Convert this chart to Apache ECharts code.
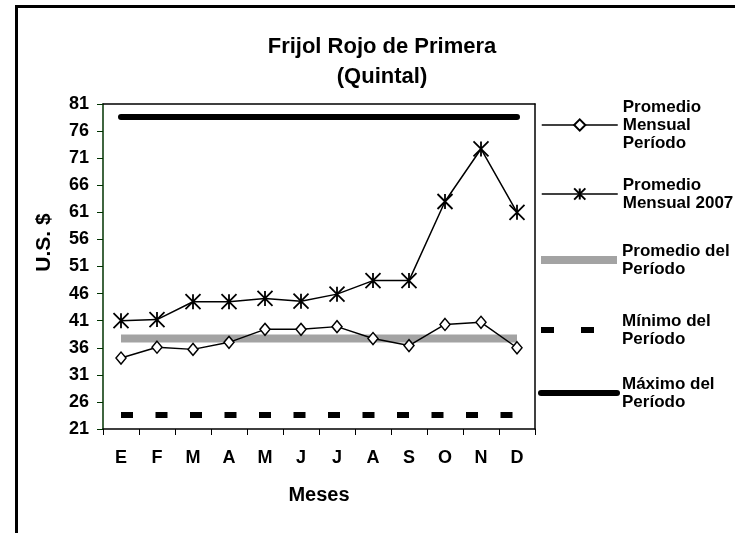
<!DOCTYPE html>
<html>
<head>
<meta charset="utf-8">
<script src="https://cdn.jsdelivr.net/npm/echarts@6/dist/echarts.min.js"></script>
<style>
  html, body { margin: 0; padding: 0; background: #fff; }
  #chart { width: 735px; height: 533px; }
</style>
</head>
<body>
<div id="chart"></div>
<script>
// datos
const meses = ['E', 'F', 'M', 'A', 'M', 'J', 'J', 'A', 'S', 'O', 'N', 'D'];
const promedioMensualPeriodo = [34.1, 36.1, 35.7, 37.0, 39.4, 39.4, 39.9, 37.7, 36.4, 40.3, 40.7, 36.0];
const promedioMensual2007 = [41.0, 41.2, 44.5, 44.5, 45.1, 44.6, 45.9, 48.4, 48.4, 63.0, 72.7, 61.0];
const promedioPeriodo = [37.7, 37.7, 37.7, 37.7, 37.7, 37.7, 37.7, 37.7, 37.7, 37.7, 37.7, 37.7];
const minimoPeriodo = [23.6, 23.6, 23.6, 23.6, 23.6, 23.6, 23.6, 23.6, 23.6, 23.6, 23.6, 23.6];
const maximoPeriodo = [78.6, 78.6, 78.6, 78.6, 78.6, 78.6, 78.6, 78.6, 78.6, 78.6, 78.6, 78.6];
const yTicks = [21, 26, 31, 36, 41, 46, 51, 56, 61, 66, 71, 76, 81];

const font = '"Liberation Sans", Arial, sans-serif';
const asterisk = 'path://M0,0L10,10M10,0L0,10M5,0L5,10';

const chart = echarts.init(document.getElementById('chart'));

// una leyenda por serie, el icono alineado con la primera linea del texto
function legendAt(name, label, lines, left, top, lineStyle, hideSymbol) {
  const l = {
    data: [name],
    orient: 'vertical',
    left: left,
    top: top,
    padding: 0,
    itemWidth: 76,
    itemHeight: 14,
    selectedMode: false,
    formatter: () => label,
    textStyle: {
      fontFamily: font, fontSize: 17, fontWeight: 'bold', color: '#000',
      lineHeight: 18, padding: [(lines - 1) * 18, 0, 0, 0]
    }
  };
  if (lineStyle) l.lineStyle = lineStyle;
  if (hideSymbol) l.itemStyle = { opacity: 0 };
  return l;
}

const options = {
  backgroundColor: '#fff',
  animation: false,
  graphic: [
    {
      type: 'rect', silent: true,
      shape: { x: 16.5, y: 6.5, width: 900, height: 900 },
      style: { fill: 'none', stroke: '#000', lineWidth: 3 }
    },
    {
      type: 'text', x: 382, y: 47,
      style: { text: 'Frijol Rojo de Primera', align: 'center', verticalAlign: 'middle',
        font: 'bold 22px ' + font, fill: '#000' }
    },
    {
      type: 'text', x: 382, y: 77,
      style: { text: '(Quintal)', align: 'center', verticalAlign: 'middle',
        font: 'bold 22px ' + font, fill: '#000' }
    }
  ],
  grid: { left: 103, top: 104, right: 200, bottom: 104 },
  legend: [
    legendAt('Promedio Mensual Período', 'Promedio\nMensual\nPeríodo', 3, 541, 80, { color: '#000', width: 1.5 }),
    legendAt('Promedio Mensual 2007', 'Promedio\nMensual 2007', 2, 541, 167, { color: '#000', width: 1.5 }),
    legendAt('Promedio del Período', 'Promedio del\nPeríodo', 2, 537, 233,
      { color: '#a3a3a3', width: 8, cap: 'butt' }, true),
    legendAt('Mínimo del Período', 'Mínimo del\nPeríodo', 2, 538, 303,
      { color: '#000', width: 6, type: [13, 27], dashOffset: 0, cap: 'butt' }, true),
    legendAt('Máximo del Período', 'Máximo del\nPeríodo', 2, 538, 366,
      { color: '#000', width: 6, cap: 'round' }, true)
  ],
  xAxis: [
    {
      type: 'category',
      data: meses,
      boundaryGap: true,
      axisLine: { lineStyle: { color: '#000', width: 1.5 } },
      axisTick: { show: true, length: 6, lineStyle: { color: '#000', width: 1 } },
      axisLabel: { fontFamily: font, fontSize: 18, fontWeight: 'bold', color: '#000', margin: 20 },
      name: 'Meses',
      nameLocation: 'middle',
      nameGap: 56,
      nameTextStyle: { fontFamily: font, fontSize: 20, fontWeight: 'bold', color: '#000' }
    },
    {
      type: 'category',
      data: meses,
      position: 'top',
      axisLine: { lineStyle: { color: '#000', width: 1.5 } },
      axisTick: { show: false },
      axisLabel: { show: false }
    }
  ],
  yAxis: [
    {
      type: 'value',
      min: 21,
      max: 81,
      axisLine: { show: true, lineStyle: { color: '#003300', width: 1.5 } },
      axisTick: { show: true, length: 6, customValues: yTicks, lineStyle: { color: '#003300' } },
      axisLabel: { customValues: yTicks, fontFamily: font, fontSize: 18, fontWeight: 'bold', color: '#000', margin: 14 },
      splitLine: { show: false },
      name: 'U.S. $',
      nameLocation: 'middle',
      nameRotate: 90,
      nameGap: 48,
      nameTextStyle: { fontFamily: font, fontSize: 21, fontWeight: 'bold', color: '#000', padding: [0, 0, 0, 48] }
    },
    {
      type: 'value',
      min: 21,
      max: 81,
      position: 'right',
      axisLine: { show: true, lineStyle: { color: '#000', width: 1.5 } },
      axisTick: { show: false },
      axisLabel: { show: false },
      splitLine: { show: false }
    }
  ],
  series: [
    {
      name: 'Promedio del Período',
      type: 'line',
      data: promedioPeriodo,
      symbol: 'none',
      lineStyle: { color: '#a3a3a3', width: 8, cap: 'butt' },
      z: 2
    },
    {
      name: 'Mínimo del Período',
      type: 'line',
      data: minimoPeriodo,
      symbol: 'none',
      lineStyle: { color: '#000', width: 6, type: [12, 22.5], dashOffset: 0, cap: 'butt' },
      z: 2
    },
    {
      name: 'Máximo del Período',
      type: 'line',
      data: maximoPeriodo,
      symbol: 'none',
      lineStyle: { color: '#000', width: 6, cap: 'round' },
      z: 2
    },
    {
      name: 'Promedio Mensual Período',
      type: 'line',
      data: promedioMensualPeriodo,
      symbol: 'diamond',
      symbolSize: [10, 12],
      lineStyle: { color: '#000', width: 1.5 },
      itemStyle: { color: '#fff', borderColor: '#000', borderWidth: 1.5 },
      z: 4
    },
    {
      name: 'Promedio Mensual 2007',
      type: 'line',
      data: promedioMensual2007,
      symbol: asterisk,
      symbolSize: 15,
      lineStyle: { color: '#000', width: 1.5 },
      itemStyle: { color: 'none', borderColor: '#000', borderWidth: 1.8 },
      z: 5
    }
  ]
};

chart.setOption(options);
</script>
</body>
</html>
